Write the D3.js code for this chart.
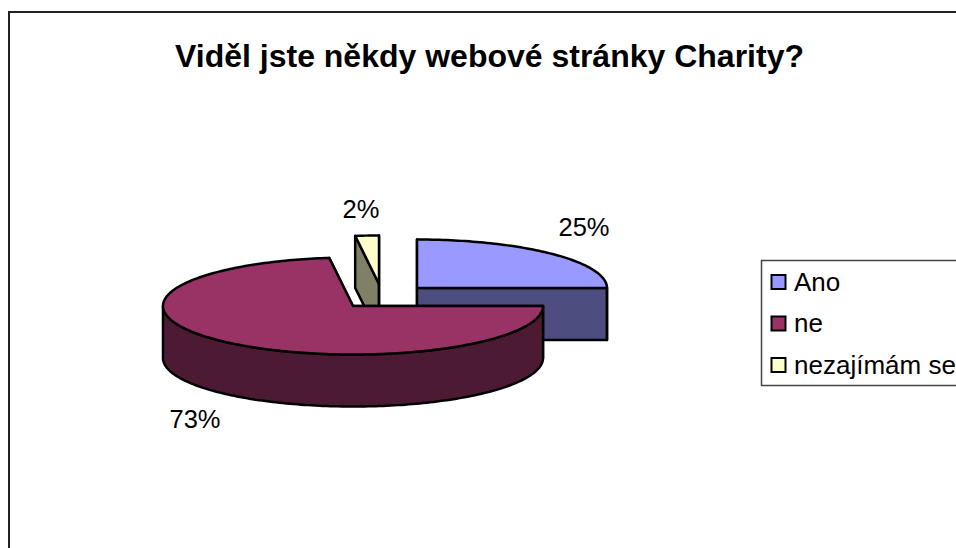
<!DOCTYPE html>
<html>
<head>
<meta charset="utf-8">
<script src="https://cdnjs.cloudflare.com/ajax/libs/d3/7.8.5/d3.min.js"></script>
<style>
html,body{margin:0;padding:0;background:#fff;overflow:hidden}
svg{display:block}
text{font-family:"Liberation Sans",Arial,sans-serif;fill:#000}
</style>
</head>
<body>
<svg id="chart" width="956" height="548"></svg>
<script>
const chartTitle = "Viděl jste někdy webové stránky Charity?";
const categories = ["Ano", "ne", "nezajímám se"];
const shares = [25, 73, 2];
const topColors = ["#9999ff", "#993366", "#ffffcc"];
const sideColors = ["#4d4d80", "#4d1a33", "#808066"];
const sliceCentres = [[417, 288], [353, 306], [379, 284]];
const labelPositions = [[584, 235.5], [195, 428], [361, 218]];

const rx = 190, ry = 48.5, depth = 52;
const svg = d3.select("#chart");

// Frame of the chart area, cut off by the right and bottom of the page
svg.append("path")
  .attr("d", "M9,548V12H956")
  .attr("fill", "none").attr("stroke", "#222").attr("stroke-width", 2);

svg.append("text")
  .attr("x", 489.5).attr("y", 67)
  .attr("text-anchor", "middle")
  .attr("font-size", 32).attr("font-weight", "bold")
  .text(chartTitle);

const arcs = d3.pie().sort(null).value(d => d)(shares);

// Ellipse point for a clockwise angle measured from twelve o'clock
const rim = (a, c, drop = 0) => [c[0] + rx * Math.sin(a), c[1] - ry * Math.cos(a) + drop];
const rimLine = d3.line();

function rimPoints(a0, a1, c, drop) {
  const n = Math.max(2, Math.ceil((a1 - a0) / 0.02));
  return d3.range(n + 1).map(i => rim(a0 + (a1 - a0) * i / n, c, drop));
}

function drawSlice(i) {
  const { startAngle: a0, endAngle: a1 } = arcs[i];
  const c = sliceCentres[i];
  const g = svg.append("g")
    .attr("stroke", "#000").attr("stroke-width", 2.5).attr("stroke-linejoin", "round");

  // Cut faces running back from the rim to the slice centre
  [a0, a1].forEach(a => {
    const p = rim(a, c);
    g.append("path")
      .attr("d", rimLine([c, p, [p[0], p[1] + depth], [c[0], c[1] + depth]]) + "Z")
      .attr("fill", sideColors[i]);
  });

  // Outer wall along the near half of the rim
  const wa0 = Math.max(a0, Math.PI / 2), wa1 = Math.min(a1, Math.PI * 1.5);
  if (wa1 > wa0) {
    const upper = rimPoints(wa0, wa1, c, 0);
    const lower = rimPoints(wa0, wa1, c, depth).reverse();
    g.append("path").attr("d", rimLine(upper.concat(lower)) + "Z").attr("fill", sideColors[i]);
  }

  // Top surface
  g.append("path")
    .attr("d", rimLine([c].concat(rimPoints(a0, a1, c, 0))) + "Z")
    .attr("fill", topColors[i]);
}

// Far slices first so the large slice overlaps them
[2, 0, 1].forEach(drawSlice);

svg.selectAll("text.pct").data(shares).join("text")
  .attr("class", "pct")
  .attr("x", (d, i) => labelPositions[i][0])
  .attr("y", (d, i) => labelPositions[i][1])
  .attr("text-anchor", "middle")
  .attr("font-size", 25.5)
  .text(d => d + "%");

// Legend
const legend = svg.append("g");
legend.append("path")
  .attr("d", "M956,260.5H761.5V385.5H956")
  .attr("fill", "#fff").attr("stroke", "#444").attr("stroke-width", 1.5);
const legendY = d3.scalePoint().domain(categories).range([282, 365]);
const item = legend.selectAll("g").data(categories).join("g")
  .attr("transform", d => `translate(0,${legendY(d)})`);
item.append("rect")
  .attr("x", 771.5).attr("y", -7).attr("width", 14).attr("height", 14)
  .attr("fill", (d, i) => topColors[i])
  .attr("stroke", "#000").attr("stroke-width", 2);
item.append("text")
  .attr("x", 794).attr("y", 8.5)
  .attr("font-size", 26)
  .text(d => d);
</script>
</body>
</html>
